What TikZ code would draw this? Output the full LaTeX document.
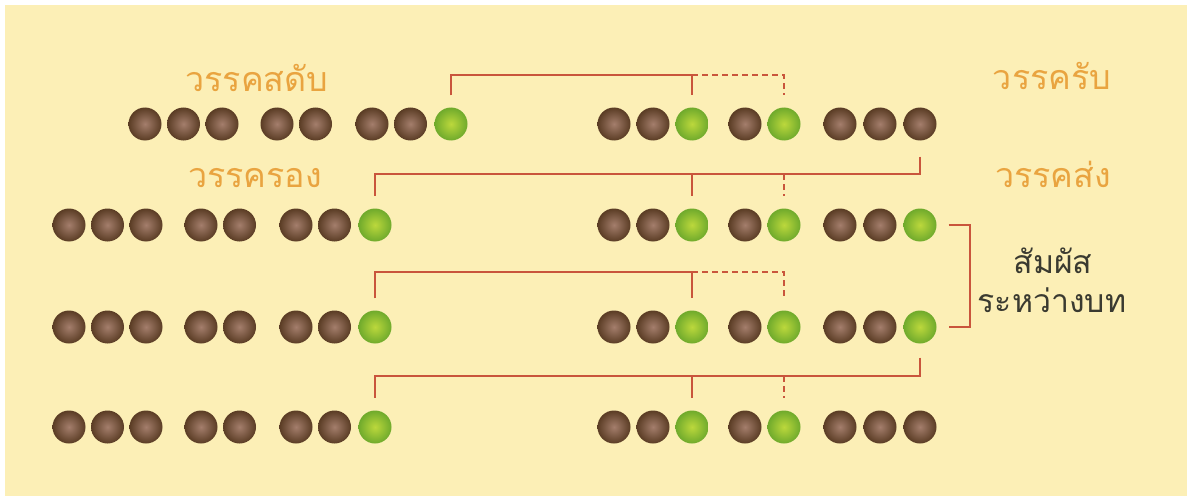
\documentclass[tikz,border=0pt]{standalone}
\usepackage{fontspec}
\newfontfamily\thaifont[Script=Thai]{Loma}
\definecolor{paperCream}{HTML}{FCEFB6}
\definecolor{brownIn}{HTML}{A47E6C}
\definecolor{brownOut}{HTML}{5A3C24}
\definecolor{greenIn}{HTML}{BCD83C}
\definecolor{greenOut}{HTML}{6FAA2C}
\definecolor{rhymeRed}{HTML}{C9553C}
\definecolor{verseOrange}{HTML}{E9A440}
\definecolor{noteGrey}{HTML}{3A3A30}

\begin{document}
\begin{tikzpicture}
[x=1pt,y=-1pt,
  dotDecorate/.style={shape=circle,inner sep=0pt,minimum size=33pt,
    shading=radial,inner color=#1In,outer color=#1Out},
  lineDecorate/.style={-,line width=1.8pt,draw=rhymeRed},
  dashDecorate/.style={lineDecorate,dash pattern=on 6pt off 4pt},
  verseDecorate/.style={font=\thaifont\fontsize{34}{36}\selectfont,
    text=verseOrange,anchor=base,inner sep=0pt},
  noteDecorate/.style={font=\thaifont\fontsize{32}{34}\selectfont,
    text=noteGrey,anchor=base,inner sep=0pt}]
\useasboundingbox (0,0) rectangle (1187,503);
\fill[white] (0,0) rectangle (1187,503);
\fill[paperCream] (5,5) rectangle (1187,496);
%% dots of the left half-verses
\foreach \row/\y/\dx in {1/124/76, 2/225/0, 3/327/0, 4/427/0}
{
  \foreach \i/\x/\kind in {
    1/69/brown, 2/107.5/brown, 3/146/brown, 4/201/brown,
    5/239.5/brown, 6/296/brown, 7/334.5/brown, 8/375/green}
  {
    \node (l\row-\i) at (\x+\dx,\y) [dotDecorate=\kind] {};
  }
}
%% dots of the right half-verses
\foreach \row/\y/\last in {1/124/brown, 2/225/green, 3/327/green, 4/427/brown}
{
  \foreach \i/\x/\kind in {
    1/614/brown, 2/653/brown, 3/692/green, 4/745/brown,
    5/784/green, 6/840/brown, 7/880/brown}
  {
    \node (r\row-\i) at (\x,\y) [dotDecorate=\kind] {};
  }
  \node (r\row-8) at (920,\y) [dotDecorate=\last] {};
}
%% names of the verses
\node (sadap) at (257,92) [verseDecorate] {วรรคสดับ};
\node (rap) at (1052,90) [verseDecorate] {วรรครับ};
\node (rong) at (255,187) [verseDecorate] {วรรครอง};
\node (song) at (1053,187) [verseDecorate] {วรรคส่ง};
\node (samphat) at (1053,273) [noteDecorate] {สัมผัส};
\node (rawang) at (1052,312) [noteDecorate] {ระหว่างบท};
%% rhyme lines
\draw[lineDecorate] ([yshift=12pt]l1-8.north) |- ([yshift=32pt]r1-3.north)
  -- ([yshift=12pt]r1-3.north);
\draw[dashDecorate] ([yshift=32pt]r1-3.north) -| ([yshift=12pt]r1-5.north);
\draw[lineDecorate] ([yshift=-16pt]r1-8.south) |- ([yshift=34pt]l2-8.north)
  -- ([yshift=12pt]l2-8.north);
\draw[lineDecorate] ([yshift=34pt]r2-3.north) -- ([yshift=12pt]r2-3.north);
\draw[dashDecorate] ([yshift=34pt]r2-5.north) -- ([yshift=12pt]r2-5.north);
\draw[lineDecorate] ([yshift=12pt]l3-8.north) |- ([yshift=38pt]r3-3.north)
  -- ([yshift=12pt]r3-3.north);
\draw[dashDecorate] ([yshift=38pt]r3-3.north) -| ([yshift=12pt]r3-5.north);
\draw[lineDecorate] ([yshift=-14pt]r3-8.south) |- ([yshift=34pt]l4-8.north)
  -- ([yshift=12pt]l4-8.north);
\draw[lineDecorate] ([yshift=34pt]r4-3.north) -- ([yshift=12pt]r4-3.north);
\draw[dashDecorate] ([yshift=34pt]r4-5.north) -- ([yshift=12pt]r4-5.north);
%% bracket between the stanzas
\draw[lineDecorate] ([xshift=12pt]r2-8.east) -- ++(21,0) |- ([xshift=12pt]r3-8.east);
\end{tikzpicture}
\end{document}
